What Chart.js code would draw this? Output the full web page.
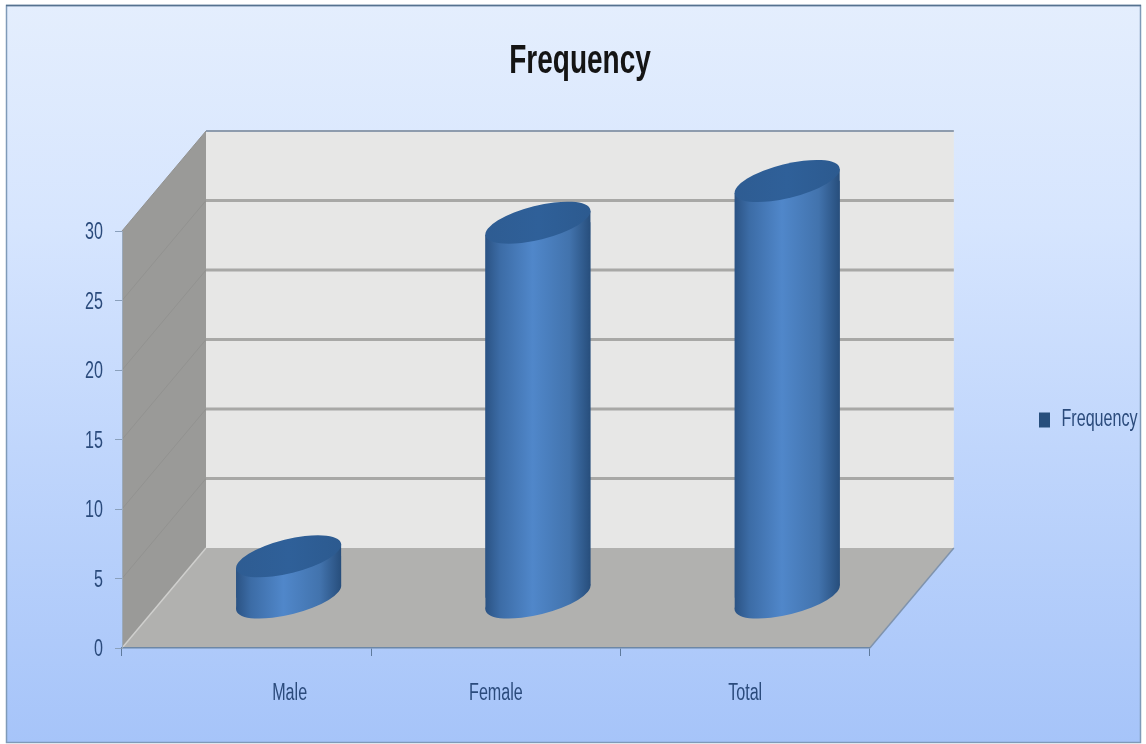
<!DOCTYPE html>
<html lang="en">
<head>
  <meta charset="UTF-8">
  <title>Frequency</title>
  <script src="https://cdn.jsdelivr.net/npm/chart.js"></script>
  <style>
    html, body { margin: 0; background: #fff; }
    #wrap { width: 1146px; height: 744px; }
    canvas { display: block; }
  </style>
</head>
<body>
  <div id="wrap"><canvas id="freqChart" width="1146" height="744"></canvas></div>

  <script>
    const categories = ["Male", "Female", "Total"];
    const frequencyValues = [3, 27, 30];
    const seriesName = "Frequency";
    const yTickStep = 5;
    const yMax = 30;

    // how far the back wall sits behind the front axis plane
    const depthX = 84;
    const depthY = -100;

    const textColor = "#2b4b7c";
    const labelFont = { family: "'Liberation Sans', sans-serif", size: 23 };
    const textSqueeze = 0.7;

    // ellipse used for the round ends of the cylinders
    const capA = 54, capB = 17, capTilt = -14 * Math.PI / 180;
    const capSide = 12;
    const barWidth = 105;

    const canvas = document.getElementById("freqChart");
    const ctx2d = canvas.getContext("2d");

    // no condensed font installed, so all canvas text gets squeezed sideways
    const plainFillText = ctx2d.fillText.bind(ctx2d);
    ctx2d.fillText = function (s, x, y) {
      ctx2d.save();
      ctx2d.translate(x, y);
      ctx2d.scale(textSqueeze, 1);
      plainFillText(s, 0, 0);
      ctx2d.restore();
    };

    function cylinderFill(c) {
      const flat = "#41709f";
      if (c.dataIndex === undefined) return flat;
      const x = c.chart.scales.x.getPixelForValue(c.dataIndex);
      if (!Number.isFinite(x)) return flat;
      const g = c.chart.ctx.createLinearGradient(x - barWidth / 2, 0, x + barWidth / 2, 0);
      g.addColorStop(0, "#2b5384");
      g.addColorStop(0.14, "#3c6ca6");
      g.addColorStop(0.45, "#5087ca");
      g.addColorStop(0.8, "#4273ad");
      g.addColorStop(1, "#274e7c");
      return g;
    }

    // background panel, walls, floor and wall gridlines
    const roomPlugin = {
      id: "room",
      afterLayout(chart) {
        const lg = chart.legend;
        lg.left = 1029; lg.right = 1146;
        lg.top = 302; lg.bottom = 538;
        chart.titleBlock.left = 0;
        chart.titleBlock.right = 1160;
        // "Male" sits further right than the other category labels
        const items = chart.scales.x.getLabelItems();
        items[0].options.translation[0] = chart.scales.x.getPixelForValue(0) + 43;
      },
      beforeDraw(chart) {
        const { ctx, scales: { x, y } } = chart;
        const bg = ctx.createLinearGradient(0, 5, 0, 743);
        bg.addColorStop(0, "#e4eefd");
        bg.addColorStop(0.3, "#d6e5fe");
        bg.addColorStop(0.6, "#c0d6fc");
        bg.addColorStop(1, "#a6c4f9");
        ctx.fillStyle = bg;
        ctx.fillRect(6, 5, 1135, 738);
        ctx.strokeStyle = "#7f9ab8";
        ctx.lineWidth = 1.5;
        ctx.strokeRect(6.5, 5.5, 1134, 737);
        ctx.strokeStyle = "#56728f";
        ctx.beginPath(); ctx.moveTo(6, 5.5); ctx.lineTo(1141, 5.5); ctx.stroke();

        const l = x.left, r = x.right, b = y.getPixelForValue(0), t = y.getPixelForValue(yMax);

        // left wall
        ctx.fillStyle = "#9a9a98";
        ctx.beginPath();
        ctx.moveTo(l, b); ctx.lineTo(l, t);
        ctx.lineTo(l + depthX, t + depthY); ctx.lineTo(l + depthX, b + depthY);
        ctx.closePath(); ctx.fill();

        // back wall
        ctx.fillStyle = "#e7e7e6";
        ctx.fillRect(l + depthX, t + depthY, r - l, b - t);

        // floor
        ctx.fillStyle = "#b1b1af";
        ctx.beginPath();
        ctx.moveTo(l, b); ctx.lineTo(l + depthX, b + depthY);
        ctx.lineTo(r + depthX, b + depthY); ctx.lineTo(r, b);
        ctx.closePath(); ctx.fill();

        // gridlines follow the y scale across both walls
        for (let v = yTickStep; v <= yMax; v += yTickStep) {
          const py = y.getPixelForValue(v);
          ctx.strokeStyle = "#929290";
          ctx.lineWidth = 1;
          ctx.beginPath();
          ctx.moveTo(l, py); ctx.lineTo(l + depthX, py + depthY);
          ctx.stroke();
          ctx.strokeStyle = v === yMax ? "#8e9cae" : "#a8a8a6";
          ctx.lineWidth = v === yMax ? 2 : 3;
          ctx.beginPath();
          ctx.moveTo(l + depthX, py + depthY); ctx.lineTo(r + depthX, py + depthY);
          ctx.stroke();
        }

        // edges of the floor
        ctx.strokeStyle = "#7f93ad";
        ctx.lineWidth = 1.5;
        ctx.beginPath();
        ctx.moveTo(r, b); ctx.lineTo(r + depthX, b + depthY);
        ctx.stroke();
        ctx.strokeStyle = "#cfcfcd";
        ctx.beginPath();
        ctx.moveTo(l, b); ctx.lineTo(l + depthX, b + depthY);
        ctx.stroke();
      },
      // bars are pushed to mid depth and get a slanted body with round ends
      beforeDatasetDraw(chart, args) {
        const { ctx } = chart;
        const bars = chart.getDatasetMeta(args.index).data;
        const hw = barWidth / 2;
        ctx.save();
        ctx.translate(depthX / 2, depthY / 2);
        bars.forEach((bar, i) => {
          ctx.fillStyle = cylinderFill({ chart, dataIndex: i });
          ctx.beginPath();
          ctx.ellipse(bar.x, bar.base, capA, capB, capTilt, 0, Math.PI * 2);
          ctx.fill();
          ctx.beginPath();
          ctx.moveTo(bar.x - hw, bar.y + capSide);
          ctx.lineTo(bar.x + hw, bar.y - capSide);
          ctx.lineTo(bar.x + hw, bar.base - capSide);
          ctx.lineTo(bar.x - hw, bar.base + capSide);
          ctx.closePath();
          ctx.fill();
        });
        ctx.save();
        // keep the square bar corners from poking out of the cylinder outline
        ctx.beginPath();
        bars.forEach(bar => {
          ctx.moveTo(bar.x - hw, bar.y + capSide);
          ctx.lineTo(bar.x + hw, bar.y - capSide);
          ctx.lineTo(bar.x + hw, bar.base - capSide);
          ctx.lineTo(bar.x - hw, bar.base + capSide);
          ctx.closePath();
        });
        ctx.clip();
      },
      afterDatasetDraw(chart, args) {
        const { ctx } = chart;
        ctx.restore();
        chart.getDatasetMeta(args.index).data.forEach(bar => {
          const g = ctx.createLinearGradient(bar.x - capA, 0, bar.x + capA, 0);
          g.addColorStop(0, "#2e5c92");
          g.addColorStop(0.5, "#2f6099");
          g.addColorStop(1, "#2c5a8f");
          ctx.fillStyle = g;
          ctx.beginPath();
          ctx.ellipse(bar.x, bar.y, capA, capB, capTilt, 0, Math.PI * 2);
          ctx.fill();
        });
        ctx.restore();
      }
    };

    new Chart(canvas, {
      type: "bar",
      data: {
        labels: categories,
        datasets: [{
          label: seriesName,
          data: frequencyValues,
          backgroundColor: cylinderFill,
          borderWidth: 0,
          barThickness: barWidth,
          clip: false
        }]
      },
      plugins: [roomPlugin],
      options: {
        responsive: false,
        animation: false,
        layout: { padding: { top: 0, right: 125, bottom: 0, left: 0 } },
        plugins: {
          tooltip: { enabled: false },
          title: {
            display: true,
            text: seriesName,
            color: "#141414",
            font: { family: labelFont.family, size: 40, weight: "bold", lineHeight: 1.2 },
            padding: { top: 38, bottom: 145 }
          },
          legend: {
            position: "right",
            labels: {
              boxWidth: 11,
              boxHeight: 15,
              padding: 10,
              color: textColor,
              font: labelFont
            }
          }
        },
        scales: {
          x: {
            afterFit(s) { s.height = 96; },
            grid: { drawOnChartArea: false, tickLength: 8, color: "#5f7a9c" },
            border: { color: "#6d87a6", width: 1.5 },
            ticks: { color: textColor, font: labelFont, padding: 24, maxRotation: 0 }
          },
          y: {
            min: 0,
            max: yMax,
            afterFit(s) { s.width = 122; },
            grid: { drawOnChartArea: false, tickLength: 7, color: "#8aa0bc" },
            border: { color: "#9aa9bb", width: 1 },
            ticks: { stepSize: yTickStep, color: textColor, font: labelFont, padding: 12, labelOffset: 2 }
          }
        }
      }
    });
  </script>
</body>
</html>
